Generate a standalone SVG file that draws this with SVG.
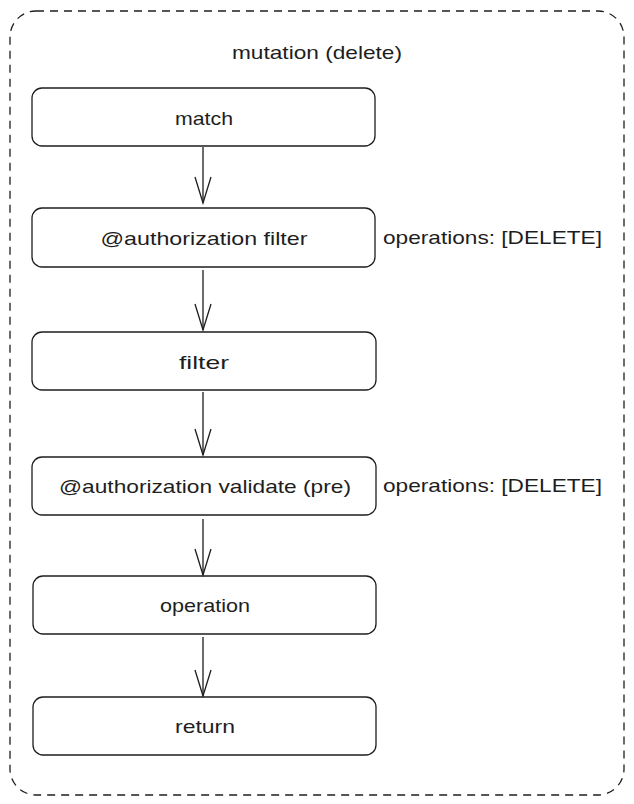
<svg xmlns="http://www.w3.org/2000/svg" width="634" height="804" viewBox="0 0 634 804">
<style>
.box{fill:#fff;stroke:#1e1e1e;stroke-width:1.3}
.t{font-family:"Liberation Sans",Arial,sans-serif;font-size:19px;fill:#1e1e1e;text-anchor:middle;dominant-baseline:central}
.lbl{font-family:"Liberation Sans",Arial,sans-serif;font-size:19px;fill:#1e1e1e;dominant-baseline:central}
.c{stroke:#1e1e1e;stroke-width:1.3;fill:none}
</style>
<defs>
<marker id="ah" markerUnits="userSpaceOnUse" viewBox="-30 -10 32 20" refX="0" refY="0" markerWidth="32" markerHeight="20" orient="auto">
<path d="M-26,-8 L0,0 L-26,8" fill="none" stroke="#1e1e1e" stroke-width="1.3"/>
</marker>
</defs>
<rect x="0" y="0" width="634" height="804" fill="#fff"/>
<g id="container">
<rect x="10" y="11" width="614" height="784" rx="26" fill="none" stroke="#1e1e1e" stroke-width="1.3" stroke-dasharray="8 6"/>
<text class="t" x="317" y="52" textLength="170" lengthAdjust="spacingAndGlyphs">mutation (delete)</text>
</g>
<g id="match"><rect class="box" x="32" y="88" width="343" height="58" rx="10"/><text class="t" x="204" y="118" textLength="58" lengthAdjust="spacingAndGlyphs">match</text></g>
<g id="authfilter"><rect class="box" x="32" y="208" width="343" height="59" rx="10"/><text class="t" x="204" y="238" textLength="207" lengthAdjust="spacingAndGlyphs">@authorization filter</text></g>
<g id="filter"><rect class="box" x="32" y="332" width="344" height="58" rx="10"/><text class="t" x="204" y="362" textLength="50" lengthAdjust="spacingAndGlyphs">filter</text></g>
<g id="authvalidate"><rect class="box" x="32" y="457" width="344" height="58" rx="10"/><text class="t" x="205" y="486" textLength="292" lengthAdjust="spacingAndGlyphs">@authorization validate (pre)</text></g>
<g id="operation"><rect class="box" x="33" y="576" width="343" height="58" rx="10"/><text class="t" x="205" y="605" textLength="90" lengthAdjust="spacingAndGlyphs">operation</text></g>
<g id="return"><rect class="box" x="33" y="697" width="343" height="58" rx="10"/><text class="t" x="205" y="726" textLength="60" lengthAdjust="spacingAndGlyphs">return</text></g>
<g id="labels">
<text class="lbl" x="383" y="237" textLength="219" lengthAdjust="spacingAndGlyphs">operations: [DELETE]</text>
<text class="lbl" x="383" y="485" textLength="219" lengthAdjust="spacingAndGlyphs">operations: [DELETE]</text>
</g>
<g id="connectors">
<path class="c" d="M203,147 L203,203" marker-end="url(#ah)"/>
<path class="c" d="M203,270 L203,330" marker-end="url(#ah)"/>
<path class="c" d="M203,392 L203,455" marker-end="url(#ah)"/>
<path class="c" d="M203,519 L203,575" marker-end="url(#ah)"/>
<path class="c" d="M203,637 L203,696" marker-end="url(#ah)"/>
</g>
</svg>
